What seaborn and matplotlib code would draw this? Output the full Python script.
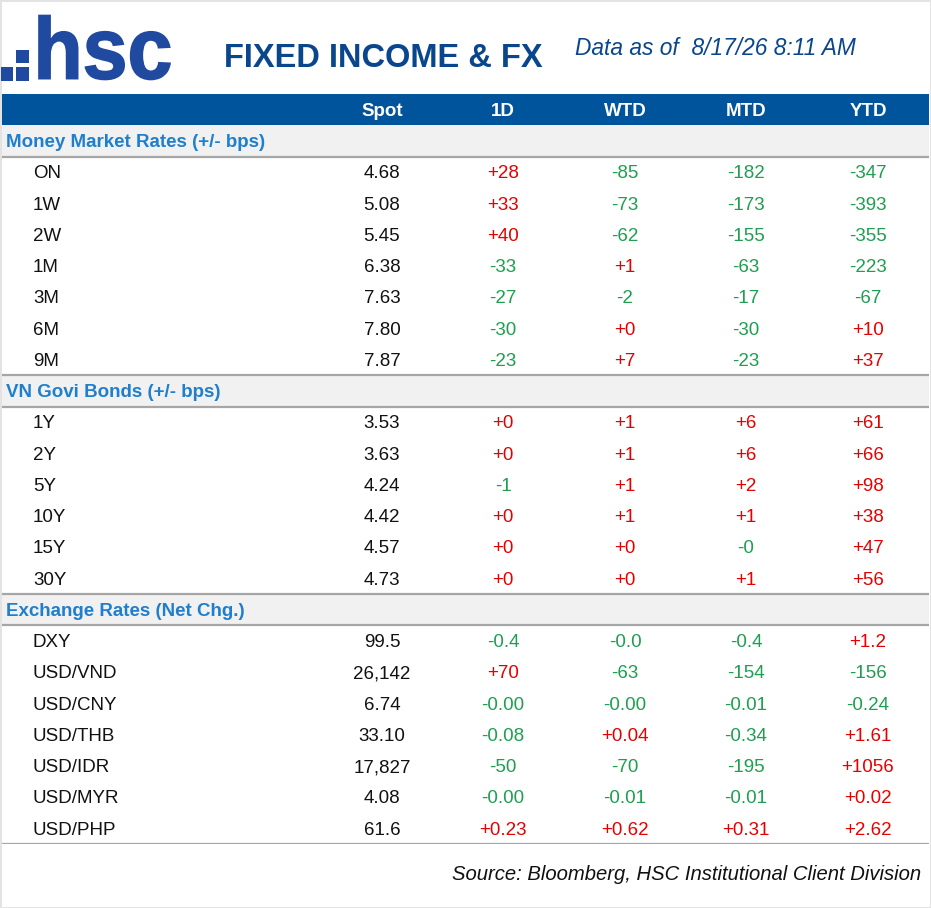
import numpy as np
import matplotlib
matplotlib.use('Agg')
import matplotlib.pyplot as plt
from matplotlib.colors import ListedColormap
from matplotlib.patches import Rectangle, PathPatch
from matplotlib.textpath import TextPath
from matplotlib.font_manager import FontProperties
from matplotlib.transforms import Affine2D
import seaborn as sns

sns.set_theme(style='white')
plt.rcParams['font.family'] = ['Liberation Sans', 'DejaVu Sans']

# column headers
columns = ['Spot', '1D', 'WTD', 'MTD', 'YTD']

# Money market rates (+/- bps)
mm_names = ['ON', '1W', '2W', '1M', '3M', '6M', '9M']
mm_spot = ['4.68', '5.08', '5.45', '6.38', '7.63', '7.80', '7.87']
mm_1d = ['+28', '+33', '+40', '-33', '-27', '-30', '-23']
mm_wtd = ['-85', '-73', '-62', '+1', '-2', '+0', '+7']
mm_mtd = ['-182', '-173', '-155', '-63', '-17', '-30', '-23']
mm_ytd = ['-347', '-393', '-355', '-223', '-67', '+10', '+37']

# VN govi bonds (+/- bps)
bd_names = ['1Y', '2Y', '5Y', '10Y', '15Y', '30Y']
bd_spot = ['3.53', '3.63', '4.24', '4.42', '4.57', '4.73']
bd_1d = ['+0', '+0', '-1', '+0', '+0', '+0']
bd_wtd = ['+1', '+1', '+1', '+1', '+0', '+0']
bd_mtd = ['+6', '+6', '+2', '+1', '-0', '+1']
bd_ytd = ['+61', '+66', '+98', '+38', '+47', '+56']

# Exchange rates (net chg.)
fx_names = ['DXY', 'USD/VND', 'USD/CNY', 'USD/THB', 'USD/IDR', 'USD/MYR', 'USD/PHP']
fx_spot = ['99.5', '26,142', '6.74', '33.10', '17,827', '4.08', '61.6']
fx_1d = ['-0.4', '+70', '-0.00', '-0.08', '-50', '-0.00', '+0.23']
fx_wtd = ['-0.0', '-63', '-0.00', '+0.04', '-70', '-0.01', '+0.62']
fx_mtd = ['-0.4', '-154', '-0.01', '-0.34', '-195', '-0.01', '+0.31']
fx_ytd = ['+1.2', '-156', '-0.24', '+1.61', '+1056', '+0.02', '+2.62']

sections = [
    ('Money Market Rates (+/- bps)', mm_names, [mm_spot, mm_1d, mm_wtd, mm_mtd, mm_ytd]),
    ('VN Govi Bonds (+/- bps)', bd_names, [bd_spot, bd_1d, bd_wtd, bd_mtd, bd_ytd]),
    ('Exchange Rates (Net Chg.)', fx_names, [fx_spot, fx_1d, fx_wtd, fx_mtd, fx_ytd]),
]

W, H = 931, 908
TOP, ROW_H = 94, 31.25
col_x = [382, 503, 625, 746, 868]

BLUE = '#00549c'
NAVY = '#0a468c'
LOGO = '#2049a0'
SEC_TXT = '#1f7fcd'
RED = '#e60000'
GREEN = '#1e9e50'
LINE = '#a6a6a6'

# row kinds: 0 header, 1 section, 2 data
kinds = [0]
for _, names, _ in sections:
    kinds += [1] + [2] * len(names)
n_rows = len(kinds)

fig = plt.figure(figsize=(W / 100, H / 100), dpi=100)
fig.patch.set_facecolor('white')
fig.patch.set_edgecolor('#e3e3e3')
fig.patch.set_linewidth(2)

# background bands drawn as a one-column heatmap
band_ax = fig.add_axes([2 / W, (H - TOP - n_rows * ROW_H) / H, 927 / W, n_rows * ROW_H / H])
sns.heatmap(np.array(kinds).reshape(-1, 1), ax=band_ax, cmap=ListedColormap([BLUE, '#f1f1f1', 'white']),
            vmin=-0.5, vmax=2.5, cbar=False, xticklabels=False, yticklabels=False)
for i, k in enumerate(kinds):
    if k == 1:
        if i > 1:
            band_ax.axhline(i, color=LINE, lw=1.6)
        band_ax.axhline(i + 1, color=LINE, lw=1.6)
band_ax.axhline(n_rows, color=LINE, lw=1.6)
band_ax.set_axis_off()

# text layer in pixel coordinates
ax = fig.add_axes([0, 0, 1, 1])
ax.set_xlim(0, W)
ax.set_ylim(H, 0)
ax.set_facecolor('none')
ax.set_axis_off()

# logo: the ".:" squares and a squeezed, heavier "hsc" word
for x0, y0, w, h in [(0.5, 67, 12.5, 13.5), (16, 67, 12.5, 13.5), (16, 50, 12.5, 12.5)]:
    ax.add_patch(Rectangle((x0, y0), w, h, color=LOGO, lw=0))
tp = TextPath((0, 0), 'hsc', size=10, prop=FontProperties(family='Liberation Sans', weight='bold'))
bb = tp.get_extents()
sx, sy = 131 / bb.width, 64 / bb.height
logo_tf = Affine2D().translate(-bb.x0, -bb.y0).scale(sx, -sy).translate(39, 79.5) + ax.transData
ax.add_patch(PathPatch(tp, transform=logo_tf, facecolor=LOGO, edgecolor=LOGO, lw=1.2))

ax.text(383, 67, 'FIXED INCOME & FX', fontsize=23.5, fontweight='bold', color=NAVY, va='baseline', ha='center')
ax.text(575, 55, 'Data as of  8/17/26 8:11 AM', fontsize=16.4, style='italic', color=NAVY, va='baseline', ha='left')

def row_base(i):
    return TOP + ROW_H * (i + 0.5) + 6.3

# header
for x, c in zip(col_x, columns):
    ax.text(x, row_base(0), c, fontsize=13.5, fontweight='bold', color='white', ha='center', va='baseline')

def val_color(s):
    return RED if s.startswith('+') else (GREEN if s.startswith('-') else '#111111')

r = 1
for title, names, cols in sections:
    ax.text(6, row_base(r), title, fontsize=13.5, fontweight='bold', color=SEC_TXT, ha='left', va='baseline')
    r += 1
    for j, name in enumerate(names):
        y = row_base(r)
        ax.text(33, y, name, fontsize=13.5, color='#111111', ha='left', va='baseline')
        for k, (x, vals) in enumerate(zip(col_x, cols)):
            color = '#111111' if k == 0 else val_color(vals[j])
            ax.text(x, y, vals[j], fontsize=13.5, color=color, ha='center', va='baseline')
        r += 1

ax.text(921, 880, 'Source: Bloomberg, HSC Institutional Client Division', fontsize=14.6, style='italic',
        color='#111111', ha='right', va='baseline')

fig.savefig('out.png', dpi=100, facecolor=fig.get_facecolor(), edgecolor=fig.get_edgecolor())
